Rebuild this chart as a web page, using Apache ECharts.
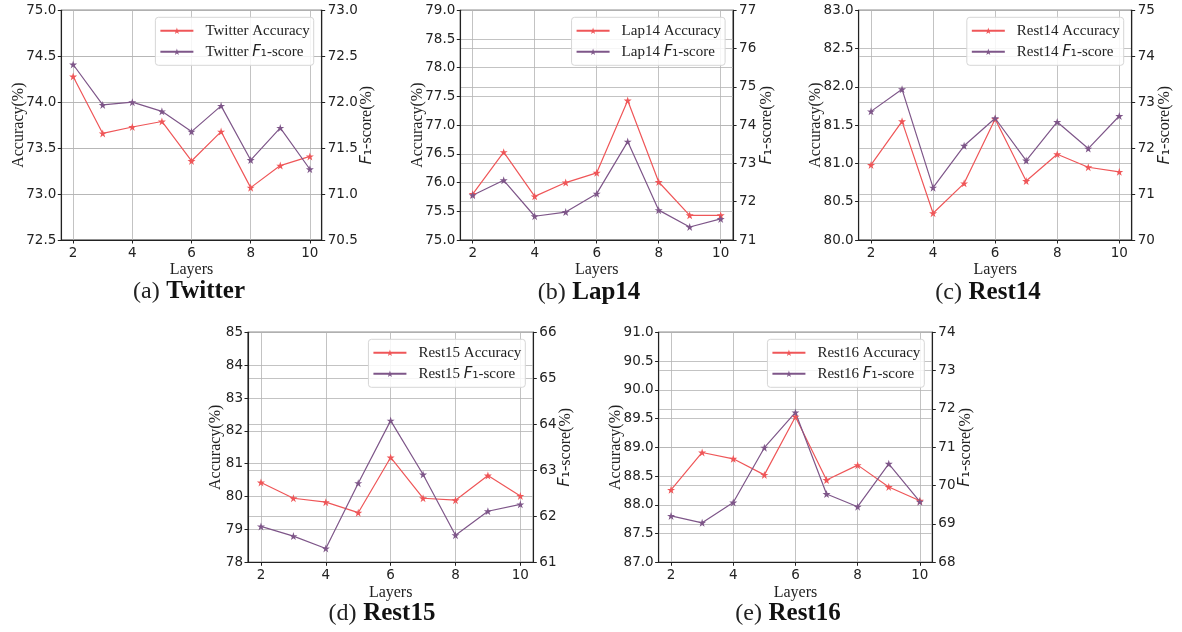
<!DOCTYPE html>
<html><head><meta charset="utf-8">
<script src="https://cdn.jsdelivr.net/npm/echarts@6/dist/echarts.min.js"></script>
<style>html,body{margin:0;padding:0;background:#fff}#c{width:1182px;height:632px}</style>
</head><body><div id="c"></div>
<script>
// ---- data ----
const layers = [2, 3, 4, 5, 6, 7, 8, 9, 10];
const xTickValues = [2, 4, 6, 8, 10];
const datasetNames = ['Twitter', 'Lap14', 'Rest14', 'Rest15', 'Rest16'];
const captionLetters = ['(a)', '(b)', '(c)', '(d)', '(e)'];
const twitterAcc = [74.28, 73.66, 73.73, 73.79, 73.36, 73.68, 73.07, 73.31, 73.41];
const twitterF1  = [72.41, 71.97, 72.00, 71.90, 71.68, 71.96, 71.37, 71.72, 71.27];
const lap14Acc   = [75.80, 76.53, 75.76, 76.00, 76.17, 77.43, 76.01, 75.43, 75.43];
const lap14F1    = [72.17, 72.56, 71.62, 71.73, 72.21, 73.57, 71.78, 71.34, 71.55];
const rest14Acc  = [80.98, 81.55, 80.35, 80.74, 81.58, 80.77, 81.12, 80.95, 80.89];
const rest14F1   = [72.80, 73.28, 71.14, 72.05, 72.65, 71.73, 72.57, 71.99, 72.70];
const rest15Acc  = [80.43, 79.95, 79.83, 79.51, 81.19, 79.95, 79.89, 80.64, 80.02];
const rest15F1   = [61.78, 61.57, 61.30, 62.72, 64.08, 62.91, 61.59, 62.11, 62.26];
const rest16Acc  = [88.26, 88.91, 88.80, 88.52, 89.53, 88.43, 88.69, 88.31, 88.07];
const rest16F1   = [69.21, 69.03, 69.56, 70.99, 71.91, 69.78, 69.45, 70.57, 69.58];
// axis ticks: [min, max, step]
const accTicks = [[72.5, 75, 0.5], [75, 79, 0.5], [80, 83, 0.5], [78, 85, 1], [87, 91, 0.5]];
const f1Ticks  = [[70.5, 73, 0.5], [71, 77, 1], [70, 75, 1], [61, 66, 1], [68, 74, 1]];

const accSeries = [twitterAcc, lap14Acc, rest14Acc, rest15Acc, rest16Acc];
const f1Series = [twitterF1, lap14F1, rest14F1, rest15F1, rest16F1];

// ---- layout & style ----
const W = 1182;
const panels = [
  {left: 61.3, top: 10.3, width: 260.4, height: 229.7, cx: 189, cy: 292, gl: 35, gr: 37.5},
  {left: 460.3, top: 10.3, width: 272.8, height: 229.7, cx: 589, cy: 292.5, gl: 35, gr: 26},
  {left: 858.6, top: 10.3, width: 273.1, height: 229.7, cx: 988, cy: 292.5, gl: 35, gr: 25},
  {left: 248.0, top: 332.3, width: 285.3, height: 230.0, cx: 382, cy: 613.5, gl: 24, gr: 24},
  {left: 658.6, top: 332.3, width: 273.7, height: 230.0, cx: 788, cy: 614, gl: 35, gr: 25}
];
const RED = '#ef5658', PURPLE = '#7e5689';
const STAR = 'path://M50,0 L61.2,34.5 L97.6,34.5 L68.2,55.9 L79.4,90.5 L50,69.1 L20.6,90.5 L31.8,55.9 L2.4,34.5 L38.8,34.5 Z';
const tickFont = {fontFamily: 'DejaVu Sans', fontSize: 13.5, color: '#222'};
const serif = 'Liberation Serif';
const gridLine = {show: true, lineStyle: {color: '#b4b4b4', width: 0.8}};
const axisLineStyle = {show: true, lineStyle: {color: '#222', width: 1.1}};
const tickStyle = {show: true, length: 3.5, inside: false, lineStyle: {color: '#222', width: 1}};
const fmt = step => v => step < 1 ? v.toFixed(1) : String(Math.round(v));

const grid = [], xAxis = [], yAxis = [], series = [], legend = [], graphic = [];
panels.forEach((p, i) => {
  grid.push({left: p.left, top: p.top, width: p.width, height: p.height, show: true,
    borderColor: '#222', borderWidth: 1.1, backgroundColor: 'transparent'});
  xAxis.push({type: 'value', gridIndex: i, min: 1.6, max: 10.4,
    axisLine: axisLineStyle,
    axisTick: Object.assign({customValues: xTickValues}, tickStyle),
    axisLabel: Object.assign({customValues: xTickValues, margin: 6, formatter: v => String(v)}, tickFont),
    splitLine: gridLine, nameMoveOverlap: false,
    name: 'Layers', nameLocation: 'middle', nameGap: 22,
    nameTextStyle: {fontFamily: serif, fontSize: 16, color: '#222'}});
  const a = accTicks[i], f = f1Ticks[i];
  yAxis.push({type: 'value', gridIndex: i, position: 'left', min: a[0], max: a[1], interval: a[2],
    axisLine: axisLineStyle, axisTick: tickStyle,
    axisLabel: Object.assign({margin: 5, formatter: fmt(a[2])}, tickFont),
    splitLine: gridLine, nameMoveOverlap: false,
    name: 'Accuracy(%)', nameLocation: 'middle', nameRotate: 90, nameGap: p.gl,
    nameTextStyle: {fontFamily: serif, fontSize: 16, color: '#222'}});
  yAxis.push({type: 'value', gridIndex: i, position: 'right', min: f[0], max: f[1], interval: f[2],
    axisLine: axisLineStyle, axisTick: tickStyle,
    axisLabel: Object.assign({margin: 6, formatter: fmt(f[2])}, tickFont),
    splitLine: gridLine, nameMoveOverlap: false,
    name: '{f|F}{s|\u2081}{n|-score(%)}', nameLocation: 'middle', nameRotate: 90, nameGap: p.gr,
    nameTextStyle: {color: '#222', rich: {
      f: {fontFamily: 'DejaVu Sans', fontStyle: 'italic', fontSize: 16, color: '#222'},
      s: {fontFamily: 'DejaVu Sans', fontSize: 16, color: '#222'},
      n: {fontFamily: serif, fontSize: 16, color: '#222'}}}});
  const nAcc = datasetNames[i] + ' Accuracy', nF1 = datasetNames[i] + ' F1-score';
  series.push({type: 'line', name: nAcc, xAxisIndex: i, yAxisIndex: 2 * i,
    data: layers.map((x, j) => [x, accSeries[i][j]]),
    symbol: STAR, symbolSize: 8, itemStyle: {color: RED},
    lineStyle: {color: RED, width: 1.2}, animation: false});
  series.push({type: 'line', name: nF1, xAxisIndex: i, yAxisIndex: 2 * i + 1,
    data: layers.map((x, j) => [x, f1Series[i][j]]),
    symbol: STAR, symbolSize: 8, itemStyle: {color: PURPLE},
    lineStyle: {color: PURPLE, width: 1.2}, animation: false});
  legend.push({data: [nAcc, nF1], orient: 'vertical', align: 'left',
    right: W - (p.left + p.width - 8), top: p.top + 7,
    backgroundColor: 'rgba(255,255,255,0.85)', borderColor: '#d6d6d6', borderWidth: 1, borderRadius: 3,
    padding: [6, 4, 6, 4], itemGap: 6, itemWidth: 33, itemHeight: 8,
    formatter: name => name.endsWith(' F1-score')
      ? '{n|' + name.replace(' F1-score', ' ') + '}{f|F}{s|\u2081}{n|-score}'
      : '{n|' + name + '}',
    textStyle: {padding: [0, 0, 0, 7], rich: {
      n: {fontFamily: serif, fontSize: 15, color: '#222'},
      f: {fontFamily: 'DejaVu Sans', fontStyle: 'italic', fontSize: 15, color: '#222'},
      s: {fontFamily: 'DejaVu Sans', fontSize: 15, color: '#222'}}}});
  graphic.push({type: 'text', x: p.cx, y: p.cy, style: {
    text: '{n|' + captionLetters[i] + '}  {b|' + datasetNames[i] + '}',
    align: 'center', verticalAlign: 'middle',
    rich: {n: {fontFamily: serif, fontSize: 24, fill: '#222'},
           b: {fontFamily: serif, fontSize: 25, fontWeight: 'bold', fill: '#111'}}}});
});

const chart = echarts.init(document.getElementById('c'), null, {renderer: 'canvas'});
chart.setOption({animation: false, backgroundColor: '#fff', grid, xAxis, yAxis, series, legend, graphic});
</script></body></html>
